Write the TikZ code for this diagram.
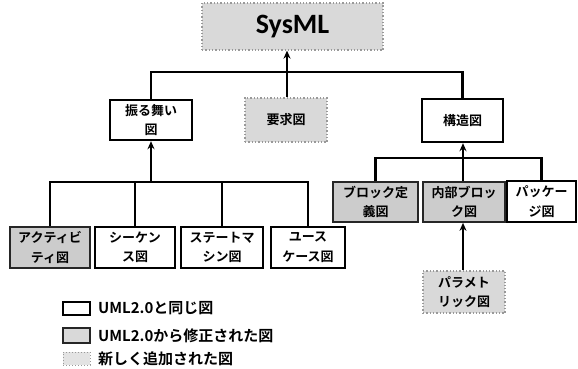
\documentclass[tikz,border=0pt]{standalone}
\usepackage{fontspec}
\setmainfont{Noto Sans CJK JP}[BoldFont={* Bold}]
\newfontfamily\calfont{Carlito}
\usetikzlibrary{arrows.meta}
\tikzset{
  box/.style={rectangle, inner sep=0pt, align=center, font=\fontsize{13}{19.5}\selectfont\bfseries},
  same/.style={box, draw=black, line width=2.4pt, fill=white},
  modified/.style={box, draw=black!85, line width=1.7pt, fill=gray!40},
  newbox/.style={box, draw=gray!80, dotted, line width=1.3pt, fill=gray!30},
  conn/.style={line width=2.5pt, draw=black},
  arr/.style={conn, -{Stealth[length=8pt,width=7pt]}},
  legtext/.style={anchor=west, inner sep=0pt, font=\fontsize{15}{17}\selectfont\bfseries}
}
\begin{document}
\begin{tikzpicture}[x=1pt,y=-1pt]
\useasboundingbox (0,0) rectangle (578,369);
% top
\node[newbox, minimum width=181pt, minimum height=47pt, font=\calfont\fontsize{28}{32}\selectfont\bfseries] (sysml) at (292.5,26.5) {SysML};
\node[same, minimum width=82pt, minimum height=40pt] (behav) at (151,120) {振る舞い\\図};
\node[newbox, minimum width=82pt, minimum height=44pt] (req) at (286,120) {要求図};
\node[same, minimum width=81pt, minimum height=43pt] (struct) at (462.5,120.5) {構造図};
% behaviour children
\node[modified, minimum width=80pt, minimum height=41pt] (act) at (50,247.5) {アクティビ\\ティ図};
\node[same, minimum width=80pt, minimum height=41pt] (seq) at (135,247.5) {シーケン\\ス図};
\node[same, minimum width=82pt, minimum height=41pt] (state) at (222,247.5) {ステートマ\\シン図};
\node[same, minimum width=74pt, minimum height=41pt] (use) at (308,247.5) {ユース\\ケース図};
% structure children
\node[modified, minimum width=85pt, minimum height=40pt] (bdd) at (375.5,202) {ブロック定\\義図};
\node[modified, minimum width=82pt, minimum height=40pt] (ibd) at (464,202) {内部ブロッ\\ク図};
\node[same, minimum width=69pt, minimum height=41pt] (pkg) at (541.5,201.5) {パッケー\\ジ図};
\node[newbox, minimum width=82pt, minimum height=42pt] (par) at (464,292) {パラメト\\リック図};
% junction coordinates
\coordinate (j1) at (287,72);
\coordinate (j2) at (151,182);
\coordinate (j3) at (463,158);
% top tree
\draw[conn] (behav.north) |- (j1) -| (struct.north);
\draw[conn] (req.north -| j1) -- (j1);
\draw[arr] (j1) -- (sysml.south -| j1);
% behaviour tree
\draw[conn] (act.north) |- (j2) -| (use.north);
\draw[conn] (seq.north) -- (seq.north |- j2);
\draw[conn] (state.north) -- (state.north |- j2);
\draw[arr] (j2) -- (behav.south);
% structure tree
\draw[conn] (bdd.north) |- (j3) -| (pkg.north);
\draw[conn] (ibd.north -| j3) -- (j3);
\draw[arr] (j3) -- (struct.south -| j3);
\draw[arr] (par.north -| j3) -- (ibd.south -| j3);
% legend
\node[same, line width=2pt, minimum width=27pt, minimum height=13pt] (l1) at (76.5,308.5) {};
\node[modified, line width=1.4pt, fill=gray!30, minimum width=27pt, minimum height=15pt] (l2) at (76.5,335.5) {};
\node[newbox, line width=1pt, fill=gray!22, minimum width=27pt, minimum height=13pt] (l3) at (76.5,358.5) {};
\node[legtext] (t1) at (98,308.5) {UML2.0と同じ図};
\node[legtext] (t2) at (98,335.5) {UML2.0から修正された図};
\node[legtext] (t3) at (98,358.5) {新しく追加された図};
\end{tikzpicture}
\end{document}
